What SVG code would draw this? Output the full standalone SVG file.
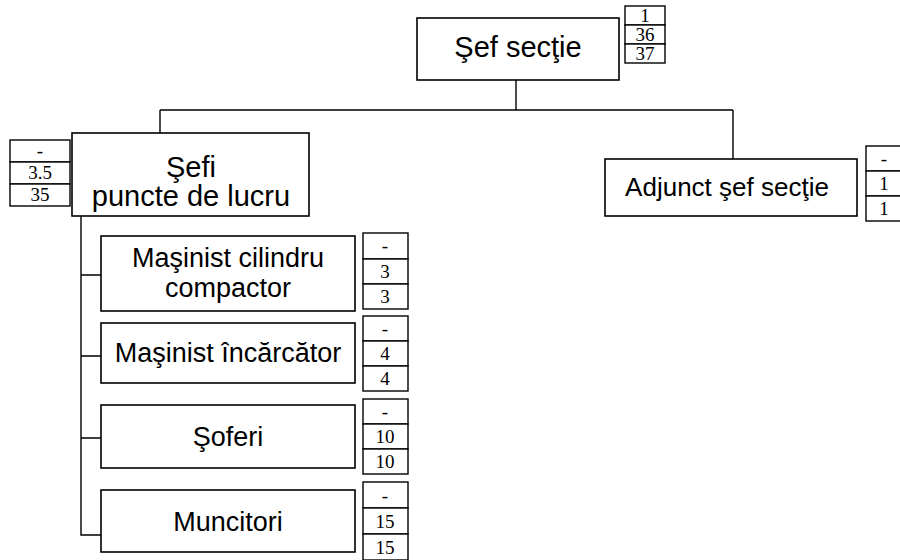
<svg xmlns="http://www.w3.org/2000/svg" width="900" height="560" viewBox="0 0 900 560">
<style>
.box{fill:#fff;stroke:#000;stroke-width:1.6}
.cell{fill:#fff;stroke:#000;stroke-width:1.4}
.lbl{font-family:"Liberation Sans",Arial,sans-serif;fill:#000;text-anchor:middle}
.num{font-family:"Liberation Serif","Times New Roman",serif;font-size:19px;fill:#000;text-anchor:middle}
.conn{fill:none;stroke:#000;stroke-width:1.4}
</style>
<rect width="900" height="560" fill="#fff"/>
<g id="connectors">
<path class="conn" d="M516 80 V110 M160 110 H733 M160 110 V133 M733 110 V159"/>
<path class="conn" d="M81 216 V535 H101 M81 275 H101 M81 356 H101 M81 438 H101"/>
</g>
<g id="sef-sectie">
<rect class="box" x="417" y="18" width="202" height="62"/>
<text class="lbl" x="518" y="57" font-size="29">Şef secţie</text>
<rect class="cell" x="625" y="6" width="40" height="19"/>
<rect class="cell" x="625" y="25" width="40" height="19"/>
<rect class="cell" x="625" y="44" width="40" height="19"/>
<text class="num" x="645" y="22">1</text>
<text class="num" x="645" y="41">36</text>
<text class="num" x="645" y="60">37</text>
</g>
<g id="sefi-puncte">
<rect class="box" x="72" y="133" width="237" height="83"/>
<text class="lbl" x="191" y="177" font-size="29">Şefi</text>
<text class="lbl" x="191" y="206" font-size="29">puncte de lucru</text>
<rect class="cell" x="10" y="140" width="60" height="22"/>
<rect class="cell" x="10" y="162" width="60" height="22"/>
<rect class="cell" x="10" y="184" width="60" height="22"/>
<text class="num" x="40" y="157">-</text>
<text class="num" x="40" y="179">3.5</text>
<text class="num" x="40" y="201">35</text>
</g>
<g id="adjunct">
<rect class="box" x="605" y="159" width="252" height="57"/>
<text class="lbl" x="727" y="196" font-size="26">Adjunct şef secţie</text>
<rect class="cell" x="866" y="146" width="40" height="25"/>
<rect class="cell" x="866" y="171" width="40" height="25"/>
<rect class="cell" x="866" y="196" width="40" height="25"/>
<text class="num" x="884" y="165">-</text>
<text class="num" x="884" y="190">1</text>
<text class="num" x="884" y="215">1</text>
</g>
<g id="masinist-cilindru">
<rect class="box" x="101" y="236" width="254" height="75"/>
<text class="lbl" x="228" y="267" font-size="27">Maşinist cilindru</text>
<text class="lbl" x="228" y="297" font-size="27">compactor</text>
<rect class="cell" x="363" y="233" width="45" height="26"/>
<rect class="cell" x="363" y="259" width="45" height="25"/>
<rect class="cell" x="363" y="284" width="45" height="25"/>
<text class="num" x="385" y="252">-</text>
<text class="num" x="385" y="278">3</text>
<text class="num" x="385" y="303">3</text>
</g>
<g id="masinist-incarcator">
<rect class="box" x="101" y="323" width="254" height="60"/>
<text class="lbl" x="228" y="362" font-size="27">Maşinist încărcător</text>
<rect class="cell" x="363" y="316" width="45" height="25"/>
<rect class="cell" x="363" y="341" width="45" height="25"/>
<rect class="cell" x="363" y="366" width="45" height="25"/>
<text class="num" x="385" y="335">-</text>
<text class="num" x="385" y="360">4</text>
<text class="num" x="385" y="385">4</text>
</g>
<g id="soferi">
<rect class="box" x="101" y="405" width="254" height="63"/>
<text class="lbl" x="228" y="446" font-size="27">Şoferi</text>
<rect class="cell" x="363" y="399" width="45" height="25"/>
<rect class="cell" x="363" y="424" width="45" height="25"/>
<rect class="cell" x="363" y="449" width="45" height="25"/>
<text class="num" x="385" y="418">-</text>
<text class="num" x="385" y="443">10</text>
<text class="num" x="385" y="468">10</text>
</g>
<g id="muncitori">
<rect class="box" x="101" y="490" width="254" height="62"/>
<text class="lbl" x="228" y="531" font-size="27">Muncitori</text>
<rect class="cell" x="363" y="482" width="45" height="26"/>
<rect class="cell" x="363" y="508" width="45" height="26"/>
<rect class="cell" x="363" y="534" width="45" height="26"/>
<text class="num" x="385" y="502">-</text>
<text class="num" x="385" y="528">15</text>
<text class="num" x="385" y="554">15</text>
</g>
</svg>
